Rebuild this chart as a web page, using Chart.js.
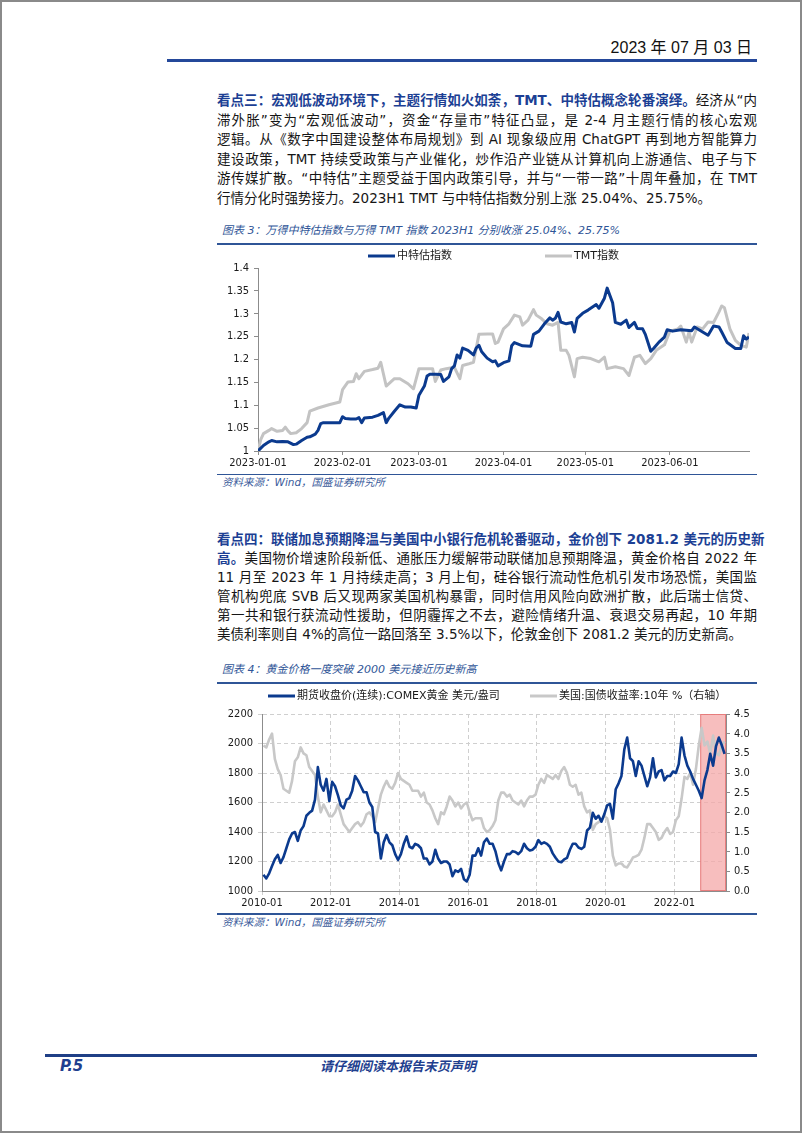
<!DOCTYPE html>
<html lang="zh-CN">
<head>
<meta charset="UTF-8">
<title>P.5</title>
<script src="https://cdn.jsdelivr.net/npm/chart.js@4.4.0/dist/chart.umd.min.js"></script>
<style>
  html, body { margin: 0; padding: 0; background: #fff; }
  #page {
    position: relative; width: 802px; height: 1133px; overflow: hidden;
    box-shadow: inset 0 0 0 2px #8a8a8a;
    font-family: "DejaVu Sans", "Noto Sans CJK SC", sans-serif; color: #161616;
  }
  .abs { position: absolute; }
  .rule { position: absolute; background: #2f5597; }
  .line {
    position: absolute; left: 217px; width: 540px; height: 19px; line-height: 19px;
    font-size: 13.5px; white-space: nowrap; text-align: justify; text-align-last: justify;
  }
  .line.last { text-align-last: left; }
  .lead { color: #1c3f94; font-weight: bold; }
  .cap { position: absolute; left: 222px; font-size: 11px; font-style: italic; color: #2f5597; white-space: nowrap; line-height: 16px; }
  .src { position: absolute; left: 222px; font-size: 10.5px; font-style: italic; color: #3b5b9b; white-space: nowrap; line-height: 14px; }
  canvas { position: absolute; }
</style>
</head>
<body>
<div id="page">
  <div class="abs" style="right:50px; top:38px; font-family:'Liberation Sans Narrow','Liberation Sans','Noto Sans CJK SC',sans-serif; font-size:16px; line-height:20px; color:#111;">2023 年 07 月 03 日</div>
  <div class="rule" style="left:167px; top:59px; width:590px; height:3px; background:#24489a;"></div>

  <div class="line" style="top:91px"><span class="lead">看点三：宏观低波动环境下，主题行情如火如荼，TMT、中特估概念轮番演绎。</span>经济从“内</div>
  <div class="line" style="top:110.5px">滞外胀”变为“宏观低波动”，资金“存量市”特征凸显，是 2-4 月主题行情的核心宏观</div>
  <div class="line" style="top:130px">逻辑。从《数字中国建设整体布局规划》到 AI 现象级应用 ChatGPT 再到地方智能算力</div>
  <div class="line" style="top:149.5px">建设政策，TMT 持续受政策与产业催化，炒作沿产业链从计算机向上游通信、电子与下</div>
  <div class="line" style="top:169px">游传媒扩散。“中特估”主题受益于国内政策引导，并与“一带一路”十周年叠加，在 TMT</div>
  <div class="line last" style="top:188.5px">行情分化时强势接力。2023H1 TMT 与中特估指数分别上涨 25.04%、25.75%。</div>

  <div class="cap" style="top:223px">图表 3：万得中特估指数与万得 TMT 指数 2023H1 分别收涨 25.04%、25.75%</div>
  <div class="rule" style="left:217px; top:242.5px; width:540px; height:2px;"></div>
  <canvas id="c1" width="540" height="228" style="left:217px; top:245px;"></canvas>
  <div class="rule" style="left:217px; top:473.5px; width:540px; height:1.5px;"></div>
  <div class="src" style="top:475px">资料来源：Wind，国盛证券研究所</div>

  <div class="line" style="top:529.5px"><span class="lead">看点四：联储加息预期降温与美国中小银行危机轮番驱动，金价创下 2081.2 美元的历史新</span></div>
  <div class="line" style="top:548.5px"><span class="lead">高。</span>美国物价增速阶段新低、通胀压力缓解带动联储加息预期降温，黄金价格自 2022 年</div>
  <div class="line" style="top:567.5px">11 月至 2023 年 1 月持续走高；3 月上旬，硅谷银行流动性危机引发市场恐慌，美国监</div>
  <div class="line" style="top:586.5px">管机构兜底 SVB 后又现两家美国机构暴雷，同时信用风险向欧洲扩散，此后瑞士信贷、</div>
  <div class="line" style="top:605.5px">第一共和银行获流动性援助，但阴霾挥之不去，避险情绪升温、衰退交易再起，10 年期</div>
  <div class="line last" style="top:624.5px">美债利率则自 4%的高位一路回落至 3.5%以下，伦敦金创下 2081.2 美元的历史新高。</div>

  <div class="cap" style="top:662px">图表 4：黄金价格一度突破 2000 美元接近历史新高</div>
  <div class="rule" style="left:217px; top:682px; width:540px; height:2px;"></div>
  <canvas id="c2" width="540" height="227" style="left:217px; top:685px;"></canvas>
  <div class="rule" style="left:217px; top:913px; width:540px; height:1.5px;"></div>
  <div class="src" style="top:914.5px">资料来源：Wind，国盛证券研究所</div>

  <div class="rule" style="left:45px; top:1054px; width:712px; height:3px; background:#1f3f86;"></div>
  <div class="abs" style="left:60px; top:1057px; font-size:15px; line-height:18px; font-weight:bold; font-style:italic; color:#1f3f8f;">P.5</div>
  <div class="abs" style="left:320px; top:1057px; font-family:'Noto Sans CJK SC',sans-serif; font-size:13px; line-height:18px; font-weight:bold; font-style:italic; color:#1f3f8f;">请仔细阅读本报告末页声明</div>
</div>

<script>
  // chart 1: days since 2023-01-01
  const csiDays = [0,2,4,5,7,9,11,13,14,16,18,19,21,22,23,24,30,31,32,34,36,37,38,39,42,44,46,47,48,50,52,54,56,58,59,61,62,63,65,67,68,70,71,72,73,74,75,77,79,80,81,82,84,86,87,88,90,92,93,94,97,100,101,103,105,107,108,109,110,111,113,115,116,117,119,121,124,125,127,128,130,131,133,135,136,138,139,141,142,144,145,147,149,150,152,155,159,160,163,165,167,169,170,172,175,177,178,179,180];
  const csiValues = [1.000,1.012,1.020,1.023,1.020,1.021,1.020,1.014,1.015,1.023,1.030,1.031,1.037,1.045,1.060,1.062,1.062,1.075,1.071,1.070,1.070,1.073,1.062,1.072,1.074,1.078,1.084,1.062,1.072,1.087,1.101,1.096,1.096,1.094,1.122,1.142,1.164,1.168,1.168,1.167,1.152,1.162,1.180,1.186,1.210,1.203,1.225,1.220,1.210,1.225,1.231,1.217,1.203,1.195,1.197,1.186,1.193,1.197,1.230,1.237,1.230,1.229,1.255,1.262,1.278,1.291,1.286,1.290,1.303,1.282,1.278,1.281,1.260,1.290,1.301,1.308,1.320,1.312,1.334,1.356,1.324,1.281,1.277,1.286,1.270,1.281,1.268,1.267,1.255,1.218,1.224,1.238,1.249,1.265,1.262,1.265,1.263,1.271,1.260,1.253,1.273,1.271,1.260,1.237,1.224,1.224,1.252,1.245,1.249];
  const tmtDays = [0,1,2,4,5,7,9,10,11,12,14,16,18,19,22,26,30,31,33,35,36,37,39,42,44,45,47,50,52,55,57,59,61,64,65,67,69,72,74,75,77,79,81,84,86,87,88,90,92,94,96,97,99,101,102,104,106,108,110,111,113,114,116,117,119,122,125,127,128,131,134,136,138,140,142,144,146,149,151,154,155,157,158,159,161,163,165,167,169,170,171,173,175,177,179,180];
  const tmtValues = [1.000,1.025,1.038,1.045,1.049,1.043,1.045,1.052,1.044,1.038,1.040,1.049,1.062,1.087,1.094,1.101,1.107,1.134,1.151,1.152,1.169,1.158,1.174,1.178,1.181,1.194,1.142,1.158,1.158,1.147,1.136,1.180,1.180,1.180,1.152,1.177,1.180,1.183,1.158,1.187,1.190,1.194,1.255,1.256,1.256,1.235,1.238,1.267,1.278,1.297,1.293,1.275,1.286,1.309,1.297,1.289,1.278,1.275,1.281,1.220,1.220,1.209,1.162,1.202,1.205,1.202,1.195,1.205,1.180,1.184,1.180,1.165,1.205,1.209,1.191,1.202,1.220,1.232,1.262,1.267,1.273,1.238,1.260,1.238,1.271,1.267,1.282,1.281,1.304,1.317,1.313,1.267,1.242,1.231,1.227,1.258];
  const dayTicks = [0, 31, 59, 90, 120, 151];
  const dayTickLabels = ['2023-01-01', '2023-02-01', '2023-03-01', '2023-04-01', '2023-05-01', '2023-06-01'];

  // chart 2: one value per month, 2010-01 .. 2023-06
  const goldValues = [
    1110,1085,1120,1170,1215,1245,1190,1230,1290,1350,1390,1400,
    1340,1410,1440,1510,1530,1545,1620,1840,1720,1680,1760,1610,
    1740,1710,1650,1580,1560,1620,1630,1680,1780,1750,1710,1670,
    1670,1600,1570,1400,1390,1220,1330,1380,1330,1310,1250,1210,
    1250,1320,1370,1300,1290,1320,1310,1290,1220,1220,1180,1200,
    1280,1220,1190,1200,1200,1180,1100,1140,1130,1150,1080,1065,
    1110,1240,1240,1290,1240,1330,1355,1320,1320,1270,1190,1140,
    1200,1250,1250,1270,1265,1250,1270,1320,1290,1275,1280,1300,
    1345,1320,1330,1320,1300,1255,1225,1200,1195,1215,1225,1280,
    1320,1320,1295,1285,1300,1410,1430,1530,1490,1510,1470,1520,
    1580,1590,1490,1690,1730,1780,1960,2040,1900,1880,1780,1880,
    1850,1780,1710,1770,1900,1770,1810,1820,1750,1780,1780,1810,
    1800,1860,2040,1920,1850,1810,1760,1720,1680,1630,1750,1820,
    1930,1850,1980,2040,1990,1930
  ];
  const yieldValues = [
    3.70,3.65,3.85,4.00,3.35,3.10,2.95,2.60,2.55,2.50,2.80,3.30,
    3.40,3.65,3.50,3.45,3.15,3.05,2.95,2.40,2.00,2.20,2.05,1.90,
    1.90,2.00,2.20,1.95,1.70,1.60,1.50,1.60,1.70,1.75,1.65,1.75,
    1.95,2.00,1.90,1.75,2.10,2.45,2.65,2.80,2.65,2.60,2.75,3.00,
    2.85,2.80,2.75,2.70,2.55,2.55,2.55,2.40,2.50,2.25,2.20,2.05,
    1.85,1.70,2.00,1.95,2.15,2.40,2.30,2.15,2.25,2.10,2.20,2.25,
    2.00,1.80,1.85,1.85,1.85,1.60,1.50,1.55,1.65,1.80,2.30,2.50,
    2.50,2.40,2.45,2.30,2.25,2.20,2.30,2.15,2.30,2.40,2.40,2.45,
    2.70,2.85,2.75,2.95,2.90,2.85,2.95,2.85,3.05,3.15,3.00,2.70,
    2.65,2.70,2.45,2.50,2.15,2.00,2.05,1.55,1.70,1.75,1.80,1.90,
    1.85,1.55,0.90,0.65,0.70,0.70,0.62,0.60,0.72,0.85,0.88,0.92,
    1.05,1.35,1.70,1.70,1.60,1.50,1.30,1.35,1.50,1.60,1.45,1.50,
    1.80,1.90,2.35,2.90,2.85,3.00,2.70,3.10,3.70,4.15,3.70,3.80,
    3.50,3.95,3.50,3.45,3.70,3.80
  ];
  const monthTicks = [0, 24, 48, 72, 96, 120, 144];
  const monthTickLabels = ['2010-01', '2012-01', '2014-01', '2016-01', '2018-01', '2020-01', '2022-01'];
  const highlightFrom = 153; // 2022-10
  const highlightTo = 162;

  const BLUE = '#0b3a8e';
  const GREY = '#c3c3c3';
  Chart.defaults.font.family = '"DejaVu Sans Condensed", "DejaVu Sans", sans-serif';
  Chart.defaults.font.size = 11;
  Chart.defaults.color = '#1a1a1a';

  // little legend: a short line and the dataset label
  const lineLegend = {
    id: 'lineLegend',
    afterDraw(chart, args, opts) {
      const ctx = chart.ctx;
      ctx.save();
      ctx.font = '11px "DejaVu Sans", "Noto Sans CJK SC", sans-serif';
      ctx.textBaseline = 'middle';
      chart.data.datasets.forEach((ds, i) => {
        const x = opts.xs[i];
        ctx.strokeStyle = ds.borderColor;
        ctx.lineWidth = 3;
        ctx.beginPath();
        ctx.moveTo(x, opts.y);
        ctx.lineTo(x + 27, opts.y);
        ctx.stroke();
        ctx.fillStyle = '#1a1a1a';
        ctx.fillText(ds.label, x + 29, opts.y);
      });
      ctx.restore();
    }
  };

  // shaded period on the x scale
  const band = {
    id: 'band',
    beforeDatasetsDraw(chart, args, opts) {
      if (!opts || opts.from == null) return;
      const { ctx, chartArea, scales } = chart;
      const x0 = scales.x.getPixelForValue(opts.from);
      const x1 = scales.x.getPixelForValue(opts.to);
      ctx.save();
      ctx.fillStyle = 'rgba(244, 168, 168, 0.75)';
      ctx.fillRect(x0, chartArea.top, x1 - x0, chartArea.bottom - chartArea.top);
      ctx.strokeStyle = 'rgba(228, 110, 110, 0.8)';
      ctx.lineWidth = 1;
      ctx.strokeRect(x0 + 0.5, chartArea.top + 0.5, x1 - x0 - 1, chartArea.bottom - chartArea.top - 1);
      ctx.restore();
    }
  };

  const axisGrey = '#8c8c8c';

  new Chart(document.getElementById('c1'), {
    type: 'line',
    data: {
      datasets: [
        { label: '中特估指数', data: csiDays.map((d, i) => ({ x: d, y: csiValues[i] })), borderColor: BLUE, borderWidth: 3 },
        { label: 'TMT指数', data: tmtDays.map((d, i) => ({ x: d, y: tmtValues[i] })), borderColor: GREY, borderWidth: 3 }
      ]
    },
    options: {
      responsive: false,
      animation: false,
      devicePixelRatio: 1,
      layout: { padding: { top: 23, right: 8, left: 0, bottom: 0 } },
      elements: { point: { radius: 0 }, line: { tension: 0, borderJoinStyle: 'round' } },
      plugins: { legend: { display: false }, tooltip: { enabled: false }, lineLegend: { y: 11, xs: [151, 328] } },
      scales: {
        x: {
          type: 'linear', min: 0, max: 180,
          afterBuildTicks: (s) => { s.ticks = dayTicks.map(v => ({ value: v })); },
          afterFit: (s) => { s.height = 22; },
          ticks: { autoSkip: false, maxRotation: 0, padding: 2, callback: (v) => dayTickLabels[dayTicks.indexOf(v)] ?? '' },
          grid: { drawOnChartArea: false, tickLength: 4, color: axisGrey },
          border: { color: axisGrey }
        },
        y: {
          min: 1, max: 1.4,
          afterFit: (s) => { s.width = 41; },
          ticks: { stepSize: 0.05, padding: 5, callback: (v) => String(Math.round(v * 100) / 100) },
          grid: { drawOnChartArea: false, tickLength: 4, color: axisGrey },
          border: { color: axisGrey }
        }
      }
    },
    plugins: [lineLegend]
  });

  new Chart(document.getElementById('c2'), {
    type: 'line',
    data: {
      datasets: [
        { label: '期货收盘价(连续):COMEX黄金 美元/盎司', data: goldValues.map((v, i) => ({ x: i + 0.5, y: v })), borderColor: BLUE, borderWidth: 2.6, yAxisID: 'y' },
        { label: '美国:国债收益率:10年 %（右轴）', data: yieldValues.map((v, i) => ({ x: i + 0.5, y: v })), borderColor: '#c8c8c8', borderWidth: 2.6, yAxisID: 'y1' }
      ]
    },
    options: {
      responsive: false,
      animation: false,
      devicePixelRatio: 1,
      layout: { padding: { top: 29, right: 0, left: 0, bottom: 0 } },
      elements: { point: { radius: 0 }, line: { tension: 0, borderJoinStyle: 'round' } },
      plugins: {
        legend: { display: false }, tooltip: { enabled: false },
        lineLegend: { y: 11, xs: [51, 313] },
        band: { from: highlightFrom, to: highlightTo }
      },
      scales: {
        x: {
          type: 'linear', min: 0, max: 162,
          afterBuildTicks: (s) => { s.ticks = monthTicks.map(v => ({ value: v })); },
          afterFit: (s) => { s.height = 21; },
          ticks: { autoSkip: false, maxRotation: 0, padding: 2, callback: (v) => monthTickLabels[monthTicks.indexOf(v)] ?? '' },
          grid: { color: '#cfcfcf', tickLength: 4 },
          border: { color: axisGrey, dash: [4, 3] }
        },
        y: {
          position: 'left', min: 1000, max: 2200,
          afterFit: (s) => { s.width = 45; },
          ticks: { stepSize: 200, padding: 5, callback: (v) => String(v) },
          grid: { color: '#cfcfcf', tickLength: 4 },
          border: { color: axisGrey, dash: [4, 3] }
        },
        y1: {
          position: 'right', min: 0, max: 4.5,
          afterFit: (s) => { s.width = 31; },
          ticks: { stepSize: 0.5, padding: 4, callback: (v) => v.toFixed(1) },
          grid: { drawOnChartArea: false, tickLength: 4, color: axisGrey },
          border: { color: axisGrey }
        }
      }
    },
    plugins: [band, lineLegend]
  });
</script>
</body>
</html>
